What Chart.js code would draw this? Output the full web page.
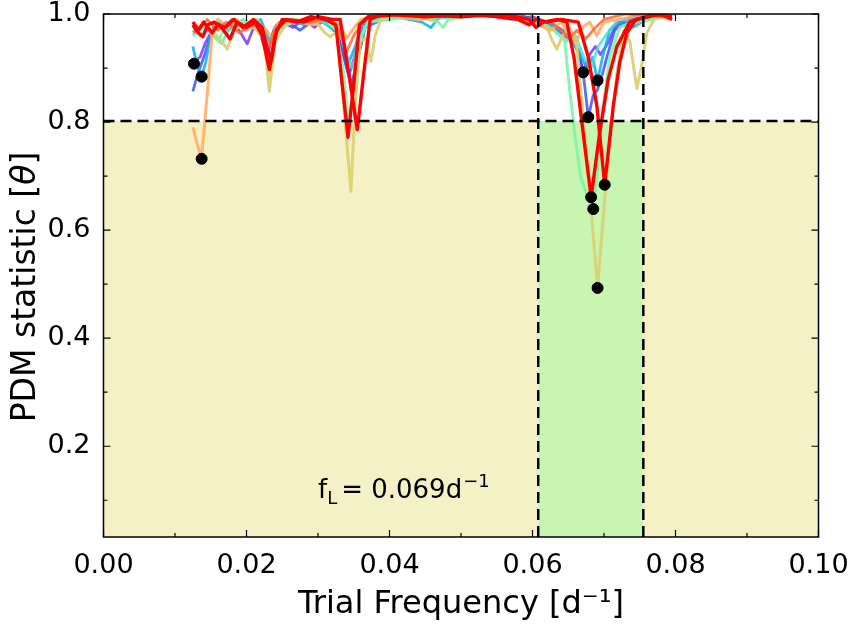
<!DOCTYPE html>
<html>
<head>
<meta charset="utf-8">
<script src="https://cdn.jsdelivr.net/npm/chart.js@4.4.1/dist/chart.umd.min.js"></script>
<style>
  html, body { margin: 0; padding: 0; background: #fff; }
</style>
</head>
<body>
<canvas id="chart1" width="854" height="628"></canvas>
<script>
// 축 눈금
var xTicks = [0.00, 0.02, 0.04, 0.06, 0.08, 0.10];
var xMinorTicks = [0.01, 0.03, 0.05, 0.07, 0.09];
var yTicks = [0.2, 0.4, 0.6, 0.8, 1.0];
var yMinorTicks = [0.1, 0.3, 0.5, 0.7, 0.9];

// 기준선 / 구간
var thetaCrit = 0.802;
var bandLow = 0.0608;
var bandHigh = 0.0755;

// 각 곡선 (주파수, PDM theta)
var purpleFreq = [0.0125,0.0130,0.0135,0.0142,0.0150,0.0158,0.0168,0.0180,0.0192,0.0201,0.0210,0.0222,0.0230,0.0238,0.0250,0.0265,0.0280,0.0295,0.0310,0.0325,0.0335,0.0343,0.0352,0.0362,0.0380,0.0420,0.0460,0.0500,0.0540,0.0580,0.0610,0.0630,0.0645,0.0656,0.0664,0.0671,0.0680,0.0688,0.0695,0.0705,0.0715,0.0730,0.0750,0.0775,0.0795];
var purpleTheta = [0.908,0.915,0.920,0.945,0.965,0.985,0.975,0.990,0.965,0.945,0.975,0.965,0.925,0.970,0.985,0.975,0.990,0.975,0.990,0.970,0.930,0.885,0.925,0.980,0.995,1.000,0.995,1.000,0.995,1.000,0.985,0.975,0.960,0.950,0.930,0.892,0.925,0.940,0.925,0.945,0.975,0.990,1.000,0.995,1.000];

var blueFreq = [0.0125,0.0132,0.0142,0.0149,0.0158,0.0170,0.0185,0.0198,0.0208,0.0220,0.0227,0.0233,0.0240,0.0252,0.0275,0.0290,0.0310,0.0328,0.0338,0.0347,0.0356,0.0366,0.0390,0.0430,0.0480,0.0530,0.0570,0.0600,0.0630,0.0648,0.0658,0.0665,0.0671,0.0678,0.0685,0.0691,0.0698,0.0704,0.0715,0.0730,0.0750,0.0775,0.0795];
var blueTheta = [0.857,0.890,0.927,0.958,0.985,0.975,0.990,0.970,0.985,0.960,0.930,0.905,0.965,0.990,0.970,0.985,0.990,0.960,0.910,0.870,0.920,0.975,0.990,1.000,0.995,1.000,0.990,0.995,0.980,0.965,0.950,0.930,0.890,0.809,0.850,0.860,0.890,0.920,0.970,0.985,0.995,1.000,0.995];

var cyanFreq = [0.0125,0.0131,0.0137,0.0143,0.0150,0.0160,0.0175,0.0190,0.0205,0.0220,0.0232,0.0242,0.0260,0.0280,0.0300,0.0318,0.0333,0.0343,0.0352,0.0362,0.0380,0.0410,0.0445,0.0458,0.0470,0.0510,0.0560,0.0595,0.0620,0.0640,0.0655,0.0665,0.0676,0.0684,0.0691,0.0698,0.0708,0.0720,0.0740,0.0760,0.0790];
var cyanTheta = [0.940,0.905,0.884,0.910,0.965,0.985,0.970,0.985,0.975,0.990,0.950,0.980,0.990,0.980,0.990,0.975,0.960,0.910,0.940,0.980,0.990,0.995,0.985,0.975,0.995,1.000,0.995,0.985,0.980,0.970,0.950,0.930,0.900,0.920,0.877,0.920,0.970,0.985,0.975,0.990,1.000];

var turqFreq = [0.0125,0.0140,0.0155,0.0165,0.0175,0.0195,0.0215,0.0226,0.0232,0.0240,0.0265,0.0300,0.0330,0.0340,0.0348,0.0358,0.0370,0.0400,0.0460,0.0520,0.0580,0.0615,0.0635,0.0648,0.0660,0.0672,0.0682,0.0692,0.0705,0.0720,0.0750,0.0790];
var turqTheta = [0.960,0.975,0.960,0.945,0.970,0.990,0.975,0.950,0.900,0.970,0.985,0.990,0.970,0.920,0.900,0.955,0.985,1.000,0.990,1.000,0.995,0.985,0.965,0.950,0.960,0.920,0.900,0.940,0.965,0.990,0.985,1.000];

var greenFreq = [0.0125,0.0135,0.0145,0.0153,0.0160,0.0170,0.0185,0.0200,0.0215,0.0225,0.0231,0.0238,0.0250,0.0270,0.0290,0.0310,0.0325,0.0335,0.0343,0.0350,0.0358,0.0370,0.0400,0.0440,0.0468,0.0475,0.0482,0.0530,0.0580,0.0610,0.0630,0.0645,0.0652,0.0660,0.0667,0.0677,0.0685,0.0692,0.0699,0.0708,0.0722,0.0740,0.0765,0.0790];
var greenTheta = [0.970,0.960,0.975,0.960,0.950,0.975,0.990,0.980,0.990,0.960,0.880,0.950,0.985,0.990,0.980,0.990,0.970,0.900,0.800,0.860,0.950,0.985,0.990,0.995,0.985,0.975,0.990,1.000,0.990,0.985,0.970,0.950,0.860,0.770,0.700,0.660,0.639,0.730,0.830,0.920,0.975,0.985,0.990,1.000];

var khakiFreq = [0.0125,0.0140,0.0155,0.0165,0.0173,0.0182,0.0200,0.0215,0.0225,0.0232,0.0240,0.0255,0.0280,0.0300,0.0310,0.0317,0.0327,0.0335,0.0346,0.0352,0.0359,0.0366,0.0374,0.0380,0.0388,0.0420,0.0480,0.0540,0.0590,0.0620,0.0628,0.0634,0.0642,0.0652,0.0662,0.0671,0.0680,0.0691,0.0703,0.0711,0.0718,0.0728,0.0736,0.0746,0.0752,0.0760,0.0770,0.0800];
var khakiTheta = [0.975,0.980,0.965,0.950,0.935,0.970,0.985,0.970,0.950,0.857,0.950,0.980,0.990,0.980,0.965,0.958,0.967,0.845,0.672,0.830,0.950,0.955,0.912,0.960,0.990,1.000,0.995,1.000,0.990,0.975,0.950,0.935,0.960,0.975,0.940,0.810,0.670,0.493,0.690,0.800,0.890,0.970,0.950,0.862,0.900,0.965,0.990,1.000];

var orangeFreq = [0.0125,0.0131,0.0137,0.0145,0.0152,0.0160,0.0175,0.0185,0.0200,0.0215,0.0228,0.0235,0.0245,0.0265,0.0290,0.0310,0.0330,0.0340,0.0348,0.0360,0.0390,0.0440,0.0500,0.0560,0.0600,0.0625,0.0640,0.0655,0.0662,0.0670,0.0680,0.0690,0.0700,0.0720,0.0760,0.0795];
var orangeTheta = [0.790,0.760,0.732,0.850,0.965,0.990,0.975,0.990,0.970,0.985,0.970,0.955,0.985,0.990,0.980,0.990,0.980,0.955,0.970,0.990,1.000,0.990,1.000,0.995,0.985,0.970,0.985,0.955,0.950,0.975,0.985,0.960,0.985,0.990,1.000,0.990];

var redOrangeFreq = [0.0125,0.0135,0.0145,0.0160,0.0172,0.0190,0.0205,0.0220,0.0232,0.0240,0.0260,0.0290,0.0315,0.0330,0.0340,0.0350,0.0365,0.0400,0.0470,0.0540,0.0600,0.0625,0.0640,0.0652,0.0662,0.0675,0.0688,0.0700,0.0730,0.0790];
var redOrangeTheta = [0.965,0.975,0.990,0.970,0.985,0.965,0.980,0.975,0.940,0.975,0.990,0.985,0.990,0.970,0.930,0.960,0.990,1.000,0.995,1.000,0.990,0.985,0.970,0.955,0.970,0.955,0.975,0.990,1.000,0.995];

var red1Freq = [0.0125,0.0131,0.0139,0.0146,0.0155,0.0165,0.0177,0.0187,0.0200,0.0212,0.0222,0.0232,0.0240,0.0250,0.0270,0.0290,0.0310,0.0325,0.0333,0.0342,0.0350,0.0358,0.0370,0.0420,0.0500,0.0560,0.0595,0.0605,0.0615,0.0635,0.0648,0.0658,0.0669,0.0682,0.0694,0.0706,0.0718,0.0736,0.0770,0.0795];
var red1Theta = [0.980,0.967,0.958,0.980,0.985,0.975,0.954,0.985,0.975,0.985,0.960,0.897,0.960,0.990,0.985,0.995,0.990,0.980,0.880,0.772,0.870,0.980,0.995,1.000,0.995,1.000,0.990,0.975,0.985,0.990,0.985,0.920,0.800,0.661,0.780,0.880,0.940,0.985,1.000,0.995];

var red2Freq = [0.0125,0.0133,0.0140,0.0152,0.0160,0.0170,0.0182,0.0195,0.0210,0.0222,0.0228,0.0235,0.0242,0.0255,0.0280,0.0300,0.0320,0.0331,0.0343,0.0355,0.0364,0.0373,0.0390,0.0450,0.0520,0.0580,0.0595,0.0605,0.0620,0.0640,0.0664,0.0678,0.0690,0.0701,0.0713,0.0722,0.0732,0.0745,0.0780,0.0795];
var red2Theta = [0.985,0.970,0.985,0.965,0.980,0.975,0.990,0.975,0.990,0.975,0.940,0.915,0.970,0.990,0.985,0.995,0.990,0.990,0.890,0.786,0.890,0.990,1.000,0.995,1.000,0.990,0.980,0.990,0.985,0.990,0.985,0.920,0.830,0.684,0.830,0.910,0.965,0.990,1.000,0.990];

// 최소값 점
var minFreq = [0.01266, 0.01373, 0.01373, 0.0671, 0.0691, 0.0678, 0.0682, 0.0685, 0.0701, 0.0691];
var minTheta = [0.908, 0.884, 0.732, 0.892, 0.877, 0.809, 0.661, 0.639, 0.684, 0.493];

var fontName = '"DejaVu Sans", sans-serif';

function pts(xs, ys) {
  return xs.map((x, i) => ({x: x, y: ys[i]}));
}

// 곡선 목록 (뒤쪽이 위에 그려짐)
var curves = [
  [purpleFreq, purpleTheta, 'rgba(115,45,250,0.8)', 2.8],
  [blueFreq, blueTheta, 'rgba(60,85,250,0.85)', 2.8],
  [cyanFreq, cyanTheta, 'rgba(14,170,240,0.85)', 2.8],
  [turqFreq, turqTheta, 'rgba(70,225,215,0.8)', 2.8],
  [greenFreq, greenTheta, 'rgba(125,245,170,0.9)', 3],
  [khakiFreq, khakiTheta, 'rgba(218,210,115,0.95)', 3],
  [orangeFreq, orangeTheta, 'rgba(255,175,95,0.9)', 3],
  [redOrangeFreq, redOrangeTheta, 'rgba(255,105,55,0.85)', 2.8],
  [red1Freq, red1Theta, '#ff0000', 3.4],
  [red2Freq, red2Theta, '#ff0000', 3.4]
];

var datasets = [];

datasets.push({
  type: 'scatter',
  data: pts(minFreq, minTheta),
  backgroundColor: '#000',
  borderColor: '#000',
  pointRadius: 5.5,
  order: 0
});

datasets.push({ // 수평 점선
  type: 'line',
  data: pts([0, 0.1], [thetaCrit, thetaCrit]),
  borderColor: '#000', borderWidth: 2.5, borderDash: [11, 6],
  pointRadius: 0, fill: false, order: 1
});
datasets.push({ // 수직 점선
  type: 'line',
  data: pts([bandLow, bandLow], [0.032, 1.0]),
  borderColor: '#000', borderWidth: 2.5, borderDash: [11, 6],
  pointRadius: 0, fill: false, order: 1
});
datasets.push({
  type: 'line',
  data: pts([bandHigh, bandHigh], [0.032, 1.0]),
  borderColor: '#000', borderWidth: 2.5, borderDash: [11, 6],
  pointRadius: 0, fill: false, order: 1
});

curves.forEach(function (c, i) {
  datasets.push({
    type: 'line',
    data: pts(c[0], c[1]),
    borderColor: c[2],
    borderWidth: c[3],
    borderJoinStyle: 'round',
    pointRadius: 0,
    tension: 0,
    fill: false,
    order: 20 - i
  });
});

datasets.push({ // 초록 구간
  type: 'line',
  data: pts([bandLow, bandHigh], [thetaCrit, thetaCrit]),
  borderWidth: 0, borderColor: 'rgba(0,0,0,0)',
  backgroundColor: 'rgb(200,245,176)',
  pointRadius: 0, fill: 'start', order: 30
});
datasets.push({ // 노란 영역
  type: 'line',
  data: pts([0, 0.1], [thetaCrit, thetaCrit]),
  borderWidth: 0, borderColor: 'rgba(0,0,0,0)',
  backgroundColor: 'rgb(245,240,198)',
  pointRadius: 0, fill: 'start', order: 31
});

// 테두리, 안쪽 눈금, 주석, y축 제목
var framePlugin = {
  id: 'framePlugin',
  afterDatasetsDraw(chart) {
    var ctx = chart.ctx;
    var a = chart.chartArea;
    var xs = chart.scales.x, ys = chart.scales.y;
    ctx.save();
    ctx.strokeStyle = '#000';
    ctx.lineWidth = 1.2;
    ctx.beginPath();
    function xt(v, len) {
      var p = xs.getPixelForValue(v);
      ctx.moveTo(p, a.bottom); ctx.lineTo(p, a.bottom - len);
      ctx.moveTo(p, a.top); ctx.lineTo(p, a.top + len);
    }
    function yt(v, len) {
      var p = ys.getPixelForValue(v);
      ctx.moveTo(a.left, p); ctx.lineTo(a.left + len, p);
      ctx.moveTo(a.right, p); ctx.lineTo(a.right - len, p);
    }
    xTicks.forEach(v => xt(v, 7));
    xMinorTicks.forEach(v => xt(v, 4));
    yTicks.forEach(v => yt(v, 7));
    yMinorTicks.forEach(v => yt(v, 4));
    ctx.stroke();
    ctx.lineWidth = 1.5;
    ctx.strokeRect(a.left, a.top, a.right - a.left, a.bottom - a.top);

    // f_L 주석
    var px = xs.getPixelForValue(0.0300);
    var py = ys.getPixelForValue(0.105);
    ctx.fillStyle = '#000';
    ctx.textBaseline = 'alphabetic';
    ctx.font = '26px ' + fontName;
    ctx.fillText('f', px, py);
    var w = ctx.measureText('f').width;
    ctx.font = '18px ' + fontName;
    ctx.fillText('L', px + w, py + 6);
    w += ctx.measureText('L').width + 4;
    ctx.font = '26px ' + fontName;
    ctx.fillText('= 0.069d', px + w, py);
    w += ctx.measureText('= 0.069d').width + 1;
    ctx.font = '18px ' + fontName;
    ctx.fillText('\u22121', px + w, py - 11);

    // y축 제목 (θ 기울임)
    var parts = [['PDM statistic [', ''], ['\u03B8', 'italic '], [']', '']];
    var total = 0;
    parts.forEach(p => { ctx.font = p[1] + '33px ' + fontName; total += ctx.measureText(p[0]).width; });
    ctx.translate(26, 287);
    ctx.rotate(-Math.PI / 2);
    ctx.textBaseline = 'middle';
    var cx = -total / 2;
    parts.forEach(p => {
      ctx.font = p[1] + '33px ' + fontName;
      ctx.fillText(p[0], cx, 0);
      cx += ctx.measureText(p[0]).width;
    });
    ctx.restore();
  }
};

const ctx1 = document.getElementById('chart1');
const pdmChart = new Chart(ctx1, {
  data: { datasets: datasets },
  options: {
    responsive: false,
    animation: false,
    layout: { padding: { top: 14, right: 35.5, left: 0, bottom: 0 } },
    plugins: { legend: { display: false }, tooltip: { enabled: false } },
    scales: {
      x: {
        type: 'linear',
        min: 0, max: 0.1,
        afterBuildTicks: s => { s.ticks = xTicks.map(v => ({value: v})); },
        afterFit: s => { s.height = 91; s.paddingLeft = 0; s.paddingRight = 0; },
        grid: { display: false, drawTicks: false },
        border: { display: false },
        ticks: {
          color: '#000', padding: 13,
          font: { family: fontName, size: 27 },
          callback: v => v.toFixed(2)
        },
        title: {
          display: true, text: 'Trial Frequency [d\u207B\u00B9]', color: '#000',
          font: { family: fontName, size: 32 },
          padding: { top: 0, bottom: 4 }
        }
      },
      y: {
        type: 'linear',
        min: 0.032, max: 1.0,
        afterBuildTicks: s => { s.ticks = yTicks.map(v => ({value: v})); },
        afterFit: s => { s.width = 103.5; s.paddingTop = 0; s.paddingBottom = 0; },
        grid: { display: false, drawTicks: false },
        border: { display: false },
        ticks: {
          color: '#000', padding: 13,
          font: { family: fontName, size: 27 },
          callback: v => v.toFixed(1)
        },
        title: { display: false }
      }
    }
  },
  plugins: [framePlugin]
});
</script>
</body>
</html>
